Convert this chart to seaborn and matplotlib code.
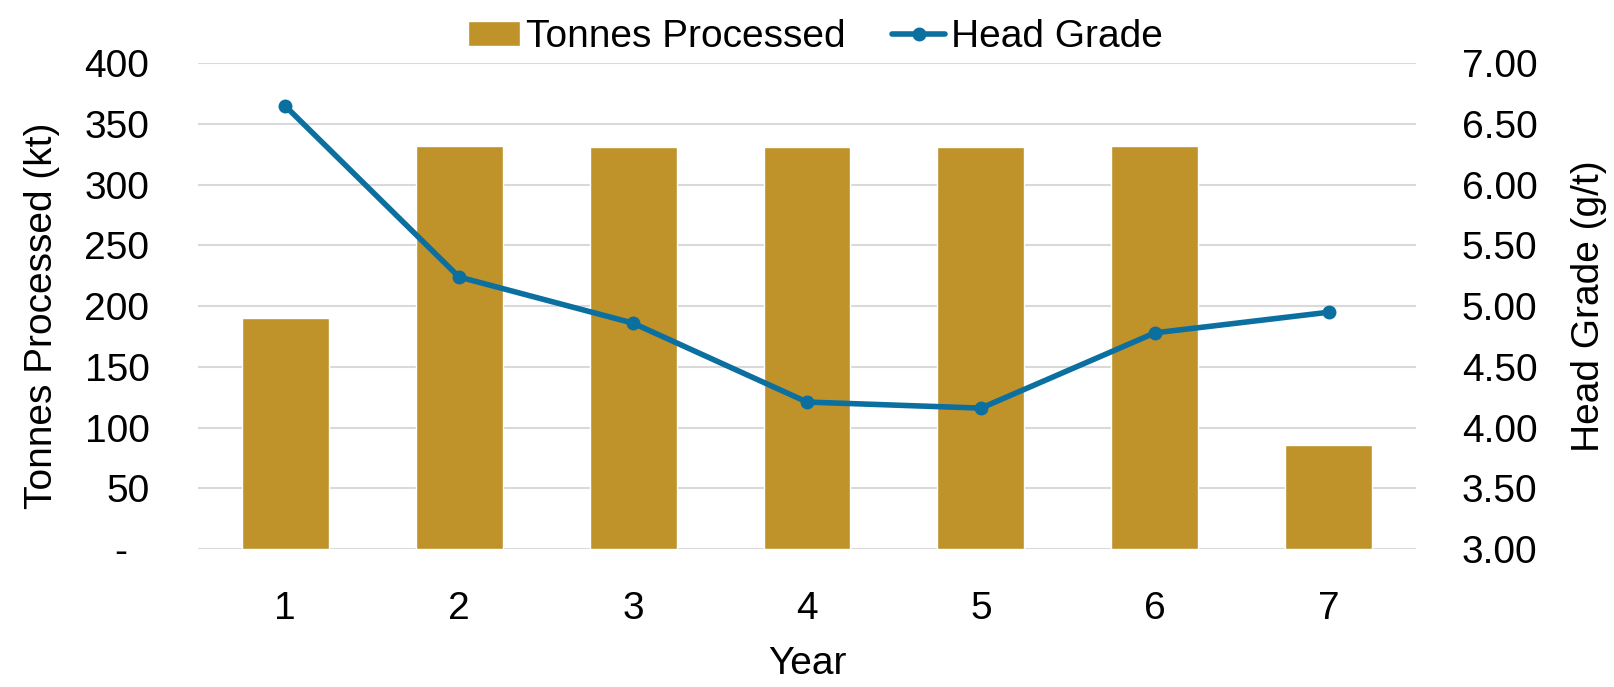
import matplotlib
matplotlib.use("Agg")
import matplotlib.pyplot as plt
import matplotlib.ticker as mticker
import seaborn as sns

# Data
years = ["1", "2", "3", "4", "5", "6", "7"]
tonnes_kt = [190, 332, 331, 331, 331, 332, 86]
head_grade = [6.65, 5.24, 4.86, 4.21, 4.16, 4.78, 4.95]

BAR_COLOR = "#C0922A"
LINE_COLOR = "#0B6FA0"
GRID_COLOR = "#D9D9D9"
FS = 28

sns.set_theme(style="white")
plt.rcParams["font.family"] = ["Liberation Sans", "DejaVu Sans"]
plt.rcParams["text.color"] = "black"
plt.rcParams["axes.labelcolor"] = "black"
plt.rcParams["xtick.color"] = "black"
plt.rcParams["ytick.color"] = "black"

fig = plt.figure(figsize=(16.14, 6.87), dpi=100)
ax = fig.add_axes([0.1227, 0.2009, 0.7546, 0.7070])

sns.barplot(x=years, y=tonnes_kt, color=BAR_COLOR, width=0.5,
            saturation=1, label="Tonnes Processed", ax=ax, zorder=2)
ax.set_ylim(0, 400)
ax.set_xlim(-0.5, 6.5)
ax.yaxis.set_major_locator(mticker.MultipleLocator(50))
ax.yaxis.set_major_formatter(
    mticker.FuncFormatter(lambda v, p: "-  " if v == 0 else "{:.0f}".format(v)))
ax.grid(axis="y", color=GRID_COLOR, linewidth=1.5, zorder=0)
ax.set_axisbelow(True)

ax2 = ax.twinx()
sns.pointplot(x=years, y=head_grade, color=LINE_COLOR, markers="o",
              linewidth=4, markersize=7, label="Head Grade", ax=ax2)
ax2.set_ylim(3.0, 7.0)
ax2.set_xlim(-0.5, 6.5)
ax2.yaxis.set_major_locator(mticker.MultipleLocator(0.5))
ax2.yaxis.set_major_formatter(mticker.FormatStrFormatter("%.2f"))
ax2.grid(False)

for a in (ax, ax2):
    for s in a.spines.values():
        s.set_visible(False)

ax.tick_params(axis="x", length=0, pad=30, labelsize=FS)
ax.tick_params(axis="y", length=0, pad=35, labelsize=FS)
ax2.tick_params(axis="y", length=0, pad=33, labelsize=FS)

ax.set_xlabel("Year", fontsize=FS, va="top")
ax.xaxis.set_label_coords(0.5, -0.2)
ax.set_ylabel("Tonnes Processed (kt)", fontsize=FS)
ax.yaxis.set_label_coords(-0.113, 0.48)
ax2.set_ylabel("Head Grade (g/t)", fontsize=FS, rotation=90)
ax2.yaxis.set_label_coords(1.127, 0.5)

# One legend for both axes, placed across the top
h1, l1 = ax.get_legend_handles_labels()
h2, l2 = ax2.get_legend_handles_labels()
if ax2.get_legend() is not None:
    ax2.get_legend().remove()
if ax.get_legend() is not None:
    ax.get_legend().remove()
fig.legend(h1 + h2, l1 + l2, loc="upper center", bbox_to_anchor=(0.505, 1.0),
           ncol=2, frameon=False, fontsize=FS, handlelength=1.35,
           handleheight=0.62, handletextpad=0.15, columnspacing=1.2,
           borderaxespad=0.1)

fig.savefig("out.png", dpi=100)
